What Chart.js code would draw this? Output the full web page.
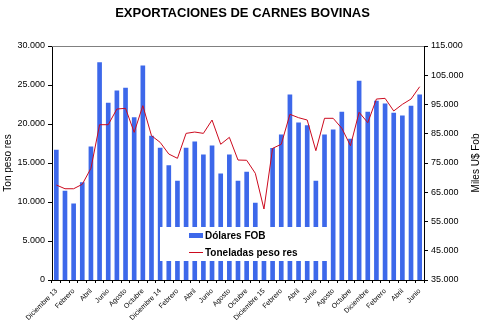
<!DOCTYPE html>
<html>
<head>
<meta charset="utf-8">
<script src="https://cdn.jsdelivr.net/npm/chart.js@4.4.1/dist/chart.umd.min.js"></script>
<style>
  html, body { margin: 0; padding: 0; background: #fff; }
</style>
</head>
<body>
<canvas id="grafico" width="485" height="332"></canvas>
<script>
  /* =========================
     DATOS
     ========================= */

  const meses = [
    "Diciembre 13", "Enero", "Febrero", "Marzo", "Abril", "Mayo", "Junio", "Julio", "Agosto", "Septiembre", "Octubre", "Noviembre",
    "Diciembre 14", "Enero", "Febrero", "Marzo", "Abril", "Mayo", "Junio", "Julio", "Agosto", "Septiembre", "Octubre", "Noviembre",
    "Diciembre 15", "Enero", "Febrero", "Marzo", "Abril", "Mayo", "Junio", "Julio", "Agosto", "Septiembre", "Octubre", "Noviembre",
    "Diciembre", "Enero", "Febrero", "Marzo", "Abril", "Mayo", "Junio"
  ];

  // Miles U$ FOB (eje derecho)
  const dolaresFob = [
    79400, 65400, 61000, 68300, 80500, 109300, 95500, 99700, 100600, 90500, 108200, 84200,
    80100, 74100, 68800, 80100, 82200, 77800, 80900, 71300, 77800, 68800, 71900, 61300,
    51000, 80000, 84600, 98300, 88700, 87800, 68800, 84600, 86300, 92400, 83200, 103000,
    92400, 96200, 95200, 92100, 91100, 94500, 98300
  ];

  // Toneladas peso res (eje izquierdo)
  const toneladas = [
    12180, 11700, 11700, 12270, 14320, 19910, 19910, 21920, 22010, 18930, 22350, 18500,
    17650, 16150, 15600, 18800, 18970, 18800, 20510, 17400, 18290, 15380, 15350, 13680,
    9100, 16880, 17400, 21240, 20810, 20510, 16580, 20730, 20730, 19450, 17220, 21500,
    20170, 23200, 23290, 21670, 22520, 23200, 24780
  ];

  const ejeIzq = { min: 0, max: 30000, paso: 5000 };
  const ejeDer = { min: 35000, max: 115000, paso: 10000 };

  const fuente = "'Liberation Sans', Arial, sans-serif";
  Chart.defaults.font.family = fuente;
  Chart.defaults.color = "#000";

  function miles(v) {
    return String(v).replace(/\B(?=(\d{3})+(?!\d))/g, ".");
  }

  /* =========================
     PLUGINS
     ========================= */

  // borde gris superior del área de trazado
  const marco = {
    id: "marco",
    beforeDatasetsDraw(chart) {
      const { ctx, chartArea: a } = chart;
      ctx.save();
      ctx.strokeStyle = "#808080";
      ctx.lineWidth = 1;
      ctx.beginPath();
      ctx.moveTo(a.left, a.top + 0.5);
      ctx.lineTo(a.right, a.top + 0.5);
      ctx.stroke();
      ctx.restore();
    }
  };

  // leyenda dentro del gráfico, tapando las barras
  const leyenda = {
    id: "leyenda",
    afterDatasetsDraw(chart) {
      const ctx = chart.ctx;
      const barras = chart.data.datasets[1];
      const linea = chart.data.datasets[0];
      ctx.save();
      ctx.fillStyle = "#fff";
      ctx.fillRect(160, 227, 168, 34);
      ctx.font = "bold 10px " + fuente;
      ctx.textBaseline = "middle";
      ctx.fillStyle = barras.backgroundColor;
      ctx.fillRect(189, 233, 14, 5);
      ctx.strokeStyle = linea.borderColor;
      ctx.lineWidth = 1;
      ctx.beginPath();
      ctx.moveTo(189, 252.5);
      ctx.lineTo(203, 252.5);
      ctx.stroke();
      ctx.fillStyle = "#000";
      ctx.fillText(barras.label, 205, 236);
      ctx.fillText(linea.label, 205, 253);
      ctx.restore();
    }
  };

  // título del eje derecho, leído de abajo hacia arriba
  const tituloDer = {
    id: "tituloDer",
    afterDraw(chart) {
      const ctx = chart.ctx;
      const a = chart.chartArea;
      ctx.save();
      ctx.translate(476, (a.top + a.bottom) / 2);
      ctx.rotate(-Math.PI / 2);
      ctx.font = "10px " + fuente;
      ctx.fillStyle = "#000";
      ctx.textAlign = "center";
      ctx.textBaseline = "middle";
      ctx.fillText("Miles U$ Fob", 0, 0);
      ctx.restore();
    }
  };

  /* =========================
     GRÁFICA
     ========================= */

  const ctx = document.getElementById("grafico");

  new Chart(ctx, {
    type: "bar",
    data: {
      labels: meses,
      datasets: [
        {
          type: "line",
          label: "Toneladas peso res",
          data: toneladas,
          yAxisID: "y",
          borderColor: "#cc0a1e",
          borderWidth: 1,
          pointRadius: 0,
          tension: 0,
          order: 0
        },
        {
          label: "Dólares FOB",
          data: dolaresFob,
          yAxisID: "y1",
          backgroundColor: "#3d68ea",
          barThickness: 4,
          order: 1
        }
      ]
    },
    options: {
      responsive: false,
      animation: false,
      devicePixelRatio: 1,
      layout: { padding: 0 },
      plugins: {
        legend: { display: false },
        tooltip: { enabled: false },
        title: {
          display: true,
          text: "EXPORTACIONES DE CARNES BOVINAS",
          font: { size: 13, weight: "bold" },
          color: "#000",
          padding: { top: 6, bottom: 24.4 }
        }
      },
      scales: {
        x: {
          offset: true,
          grid: { offset: true, drawOnChartArea: false, tickLength: 3, color: "#000" },
          border: { color: "#000" },
          ticks: {
            autoSkip: false,
            maxRotation: 45,
            minRotation: 45,
            padding: 4,
            font: { size: 7 },
            color: "#000",
            callback: function (v, i) {
              return i % 2 === 0 ? this.getLabelForValue(v) : "";
            }
          },
          afterFit: s => { s.height = 52; }
        },
        y: {
          position: "left",
          min: ejeIzq.min,
          max: ejeIzq.max,
          grid: { drawOnChartArea: false, tickLength: 4, color: "#000" },
          border: { color: "#000" },
          ticks: { stepSize: ejeIzq.paso, padding: 3, font: { size: 9 }, color: "#000", callback: miles },
          title: { display: true, text: "Ton peso res", font: { size: 10 }, color: "#000", padding: { top: 2, bottom: 0 } },
          afterFit: s => { s.width = 52; }
        },
        y1: {
          position: "right",
          min: ejeDer.min,
          max: ejeDer.max,
          grid: { drawOnChartArea: false, tickLength: 4, color: "#000" },
          border: { color: "#000" },
          ticks: { stepSize: ejeDer.paso, padding: 3, font: { size: 9 }, color: "#000", callback: miles },
          afterFit: s => { s.width = 61; }
        }
      }
    },
    plugins: [marco, leyenda, tituloDer]
  });
</script>
</body>
</html>
